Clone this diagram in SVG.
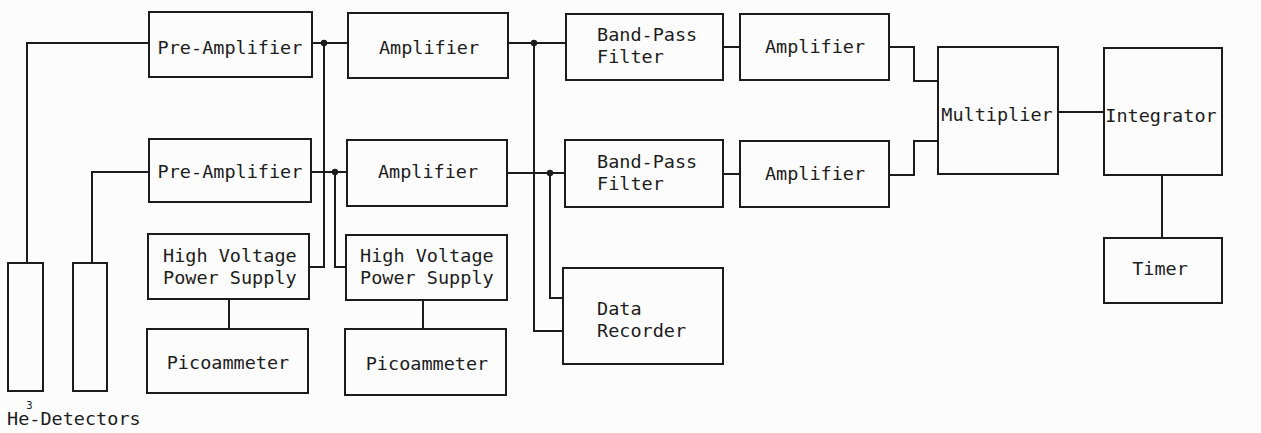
<svg xmlns="http://www.w3.org/2000/svg" width="1261" height="433" viewBox="0 0 1261 433">
<style>
.box{fill:none;stroke:#1c1c1c;stroke-width:2}
.ln{fill:none;stroke:#1c1c1c;stroke-width:2}
.dot{fill:#1c1c1c}
text{font-family:"DejaVu Sans Mono","Liberation Mono",monospace;font-size:18.5px;fill:#1c1c1c}
.c{text-anchor:middle}
</style>
<rect x="0" y="0" width="1261" height="433" fill="#fcfcfc"/>
<g id="connectors">
<path class="ln" d="M27,263 V43 H149"/>
<path class="ln" d="M92,263 V172 H149"/>
<path class="ln" d="M312,43 H348"/>
<path class="ln" d="M324,43 V267 H309"/>
<path class="ln" d="M311,172 H347"/>
<path class="ln" d="M335,172 V267 H346"/>
<path class="ln" d="M229,299 V329"/>
<path class="ln" d="M423,300 V329"/>
<path class="ln" d="M508,43 H566"/>
<path class="ln" d="M534,43 V331 H563"/>
<path class="ln" d="M507,173 H565"/>
<path class="ln" d="M550,173 V298 H563"/>
<path class="ln" d="M723,47 H740"/>
<path class="ln" d="M723,174 H740"/>
<path class="ln" d="M889,47 H914 V81 H938"/>
<path class="ln" d="M889,175 H914 V141 H938"/>
<path class="ln" d="M1058,112 H1104"/>
<path class="ln" d="M1162,175 V238"/>
<circle class="dot" cx="324" cy="43" r="3.2"/>
<circle class="dot" cx="335" cy="172" r="3.2"/>
<circle class="dot" cx="534" cy="43" r="3.2"/>
<circle class="dot" cx="550" cy="173" r="3.2"/>
</g>
<g id="detector1"><rect class="box" x="8" y="263" width="35" height="128"/></g>
<g id="detector2"><rect class="box" x="73" y="263" width="34" height="128"/></g>
<g id="detector-label"><text x="7" y="425">He<tspan dx="-3" dy="-16" font-size="10.5">3</tspan><tspan dx="-3.3" dy="16">-Detectors</tspan></text></g>
<g id="preamp1"><rect class="box" x="149" y="12" width="163" height="65"/><text class="c" x="230" y="54">Pre-Amplifier</text></g>
<g id="preamp2"><rect class="box" x="149" y="139" width="162" height="63"/><text class="c" x="230" y="178">Pre-Amplifier</text></g>
<g id="hvps1"><rect class="box" x="148" y="234" width="161" height="65"/><text x="163" y="262">High Voltage</text><text x="163" y="284">Power Supply</text></g>
<g id="pico1"><rect class="box" x="147" y="329" width="161" height="64"/><text class="c" x="228" y="369">Picoammeter</text></g>
<g id="amp1"><rect class="box" x="348" y="13" width="160" height="65"/><text class="c" x="429" y="54">Amplifier</text></g>
<g id="amp2"><rect class="box" x="347" y="140" width="160" height="66"/><text class="c" x="428" y="178">Amplifier</text></g>
<g id="hvps2"><rect class="box" x="346" y="235" width="161" height="65"/><text x="360" y="262">High Voltage</text><text x="360" y="284">Power Supply</text></g>
<g id="pico2"><rect class="box" x="345" y="329" width="161" height="66"/><text class="c" x="427" y="370">Picoammeter</text></g>
<g id="bpf1"><rect class="box" x="566" y="14" width="157" height="66"/><text x="597" y="41">Band-Pass</text><text x="597" y="63">Filter</text></g>
<g id="bpf2"><rect class="box" x="565" y="140" width="158" height="67"/><text x="597" y="168">Band-Pass</text><text x="597" y="190">Filter</text></g>
<g id="datarecorder"><rect class="box" x="563" y="268" width="160" height="96"/><text x="597" y="315">Data</text><text x="597" y="337">Recorder</text></g>
<g id="amp3"><rect class="box" x="740" y="14" width="149" height="66"/><text class="c" x="815" y="53">Amplifier</text></g>
<g id="amp4"><rect class="box" x="740" y="141" width="149" height="66"/><text class="c" x="815" y="180">Amplifier</text></g>
<g id="multiplier"><rect class="box" x="938" y="47" width="120" height="127"/><text class="c" x="997" y="121">Multiplier</text></g>
<g id="integrator"><rect class="box" x="1104" y="48" width="118" height="127"/><text class="c" x="1161" y="122">Integrator</text></g>
<g id="timer"><rect class="box" x="1104" y="238" width="118" height="65"/><text class="c" x="1160" y="275">Timer</text></g>
</svg>
